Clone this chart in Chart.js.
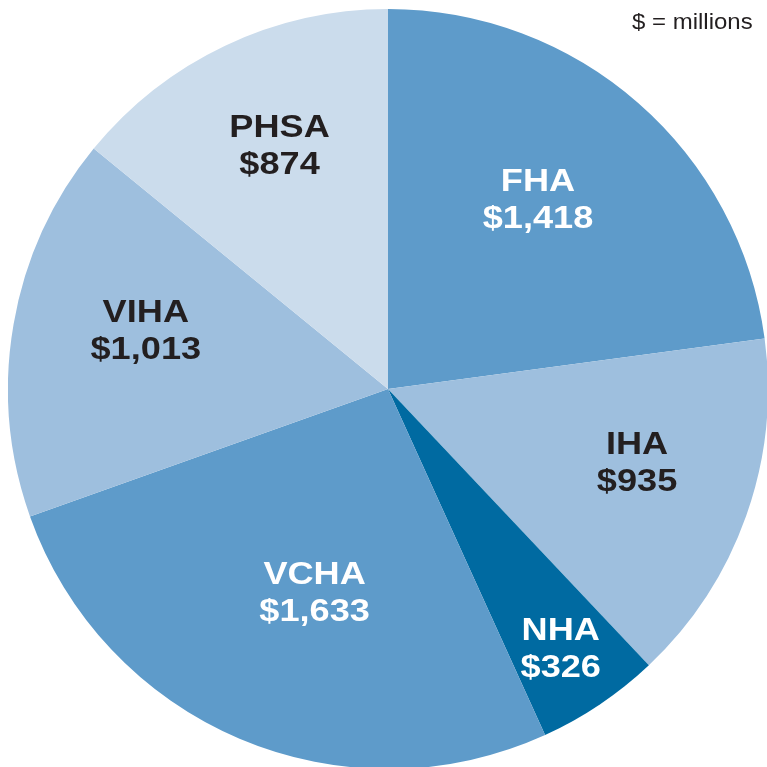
<!DOCTYPE html>
<html>
<head>
<meta charset="utf-8">
<script src="https://cdn.jsdelivr.net/npm/chart.js@4"></script>
<style>
  html, body { margin: 0; padding: 0; background: #fff; overflow: hidden; width: 767px; height: 767px; }
  #wrap { position: absolute; left: 8px; top: 9px; width: 760px; height: 760px; }
  #note { position: absolute; right: 14px; top: 11px; font: 22px/22px "Liberation Sans", Arial, sans-serif; color: #231f20;
          transform: scaleX(1.09); transform-origin: right center; white-space: nowrap; }
</style>
</head>
<body>
<div id="wrap"><canvas id="pie-chart"></canvas></div>
<div id="note">$ = millions</div>
<script>
const regions = ["FHA", "IHA", "NHA", "VCHA", "VIHA", "PHSA"];
const spending = [1418, 935, 326, 1633, 1013, 874];
const sliceColors = ["#5e9bca", "#9ebfde", "#006aa1", "#5e9bca", "#9ebfde", "#cbdcec"];
const textColors = ["#ffffff", "#231f20", "#ffffff", "#ffffff", "#231f20", "#231f20"];
// label placement: fraction of radius, and angle nudge in degrees
const labelRadius = [0.633, 0.684, 0.824, 0.573, 0.655, 0.698];
const labelNudge = [-2.6, -2.9, 0.4, -3.3, 3.5, 1.25];

// draws the two-line labels inside each slice
const sliceLabels = {
    id: 'sliceLabels',
    afterDatasetsDraw(chart) {
        const ctx = chart.ctx;
        const meta = chart.getDatasetMeta(0);
        ctx.save();
        ctx.font = 'bold 32px "Liberation Sans", Arial, sans-serif';
        ctx.textAlign = 'center';
        ctx.textBaseline = 'middle';
        meta.data.forEach((arc, i) => {
            const mid = (arc.startAngle + arc.endAngle) / 2 + labelNudge[i] * Math.PI / 180;
            const r = arc.outerRadius * labelRadius[i];
            const x = arc.x + Math.cos(mid) * r;
            const y = arc.y + Math.sin(mid) * r;
            ctx.save();
            ctx.translate(x, y);
            ctx.scale(1.13, 1);
            ctx.fillStyle = textColors[i];
            ctx.fillText(regions[i], 0, -18.5);
            ctx.fillText('$' + spending[i].toLocaleString('en-US'), 0, 18.5);
            ctx.restore();
        });
        ctx.restore();
    }
};

new Chart(document.getElementById("pie-chart"), {
    type: 'pie',
    data: {
        labels: regions,
        datasets: [{
            data: spending,
            backgroundColor: sliceColors,
            borderWidth: 0
        }]
    },
    options: {
        maintainAspectRatio: false,
        responsive: true,
        animation: false,
        layout: {padding: 0},
        plugins: {
            legend: {display: false},
            tooltip: {enabled: false}
        }
    },
    plugins: [sliceLabels]
});
</script>
</body>
</html>
